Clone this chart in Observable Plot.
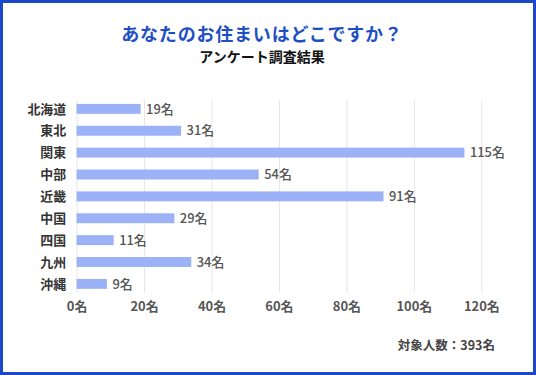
<!DOCTYPE html>
<html><head><meta charset="utf-8">
<script src="https://cdn.jsdelivr.net/npm/d3@7"></script>
<script src="https://cdn.jsdelivr.net/npm/@observablehq/plot@0.6"></script>
<style>
html,body{margin:0;padding:0;background:#fff;}
#frame{position:relative;width:536px;height:375px;box-sizing:border-box;border:3px solid #1c47c8;background:#fff;font-family:"Noto Sans CJK JP","Noto Sans",sans-serif;overflow:hidden;}
#title{position:absolute;top:18px;left:-6px;width:530px;text-align:center;font-size:18px;font-weight:700;color:#1f4fc4;letter-spacing:0.8px;line-height:24px;}
#subtitle{position:absolute;top:44px;left:-6px;width:530px;text-align:center;font-size:14px;font-weight:700;color:#111;line-height:18px;}
#chart{position:absolute;top:82px;left:-3px;}
#caption{position:absolute;top:333px;right:38px;font-size:12.5px;font-weight:700;color:#444;line-height:18px;}
</style></head>
<body>
<div id="frame">
  <div id="title">あなたのお住まいはどこですか？</div>
  <div id="subtitle">アンケート調査結果</div>
  <div id="chart"></div>
  <div id="caption">対象人数：393名</div>
</div>
<script>
const regions = ["北海道","東北","関東","中部","近畿","中国","四国","九州","沖縄"];
const counts = [19,31,115,54,91,29,11,34,9];
const xTicks = [0,20,40,60,80,100,120];
const unit = "名";

const data = regions.map((r,i)=>({region:r, count:counts[i]}));

const chart = Plot.plot({
  width: 536,
  height: 236,
  marginLeft: 77,
  marginRight: 52,
  marginTop: 15,
  marginBottom: 27,
  style: {fontFamily: '"Noto Sans CJK JP","Noto Sans",sans-serif', background: "transparent"},
  x: {domain: [0,120], ticks: xTicks, tickFormat: d => d + unit},
  y: {domain: regions, paddingInner: 0.55, paddingOuter: 0.05},
  marks: [
    Plot.gridX(xTicks, {stroke: "#e6e6e6", strokeOpacity: 1}),
    Plot.barX(data, {x: "count", y: "region", fill: "#9bb2f6"}),
    Plot.text(data, {x: "count", y: "region", text: d => d.count + unit, textAnchor: "start", dx: 5, fill: "#555", fontSize: 13, fontWeight: 500}),
    Plot.axisX({ticks: xTicks, tickFormat: d => d + unit, tickSize: 0, tickPadding: 9, fontSize: 13, fontWeight: 700, fill: "#555", label: null}),
    Plot.axisY({tickSize: 0, tickPadding: 11, fontSize: 13, fontWeight: 700, fill: "#333", label: null})
  ]
});
document.getElementById("chart").appendChild(chart);
</script>
</body></html>
